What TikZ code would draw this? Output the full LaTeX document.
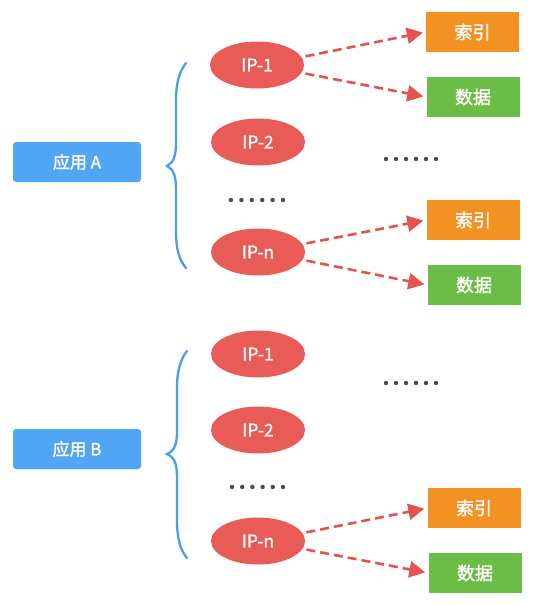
\documentclass[tikz,border=0pt]{standalone}
\usepackage{fontspec}
\setmainfont{Noto Sans CJK SC}
\newfontfamily\lblfont{Noto Sans CJK SC}[FakeBold=1.5]
\usetikzlibrary{shapes.geometric,arrows.meta}
\definecolor{appblue}{HTML}{50A5F5}
\definecolor{bracecol}{HTML}{4A9EEA}
\definecolor{ipred}{HTML}{E95B57}
\definecolor{idxorange}{HTML}{F29223}
\definecolor{datagreen}{HTML}{6CBD45}
\definecolor{arrowred}{HTML}{E6524F}
\definecolor{dotgray}{HTML}{4A4A4A}
\tikzset{
  appbox/.style={draw=none,fill=appblue,rounded corners=3pt,minimum width=128pt,minimum height=40pt,inner sep=0pt,text=white,font=\lblfont\fontsize{17}{19}\selectfont},
  ipnode/.style={ellipse,draw=none,fill=ipred,minimum width=94pt,minimum height=47pt,inner sep=0pt,text=white,font=\lblfont\fontsize{17.5}{19}\selectfont},
  idxbox/.style={draw=none,fill=idxorange,minimum width=93pt,minimum height=40pt,inner sep=0pt,text=white,font=\lblfont\fontsize{18}{20}\selectfont},
  databox/.style={draw=none,fill=datagreen,minimum width=93pt,minimum height=40pt,inner sep=0pt,text=white,font=\lblfont\fontsize{18}{20}\selectfont},
  bracestyle/.style={draw=bracecol,line width=2.3pt,line cap=round},
  dasharrow/.style={draw=arrowred,line width=2.6pt,dash pattern=on 9pt off 5pt,-{Triangle[length=16pt,width=16pt]},shorten <=4pt,shorten >=3pt},
  dotmark/.style={fill=dotgray,draw=none}
}
\begin{document}
\begin{tikzpicture}[x=1pt,y=-1pt]
\useasboundingbox (0,0) rectangle (537,605);
\fill[white] (0,0) rectangle (537,605);

% ---------- Section A ----------
\node[appbox] (appA) at (77,162) {应用 A};
\draw[bracestyle] (186,63) .. controls (179,72) and (176,84) .. (176,100) -- (176,143)
  .. controls (176,157) and (173,163) .. (167,166)
  .. controls (173,169) and (176,175) .. (176,189) -- (176,232)
  .. controls (176,248) and (179,260) .. (186,268);

\node[ipnode] (ipA1) at (257,65) {IP-1};
\node[ipnode] (ipA2) at (258,142) {IP-2};
\node[ipnode] (ipAn) at (258,252) {IP-n};

\node[idxbox] (idxA1) at (472.5,32) {索引};
\node[databox] (datA1) at (473,97) {数据};
\node[idxbox] (idxAn) at (473,220) {索引};
\node[databox] (datAn) at (474,285) {数据};

\draw[dasharrow] (ipA1.10) -- (idxA1.west);
\draw[dasharrow] (ipA1.-10) -- (datA1.west);
\draw[dasharrow] (ipAn.10) -- (idxAn.west);
\draw[dasharrow] (ipAn.-10) -- (datAn.west);

\foreach \i in {0,...,5} {
  \fill[dotmark] (231+10.4*\i,200) circle (2.2pt);
  \fill[dotmark] (386+10*\i,159) circle (2.2pt);
}

% ---------- Section B ----------
\node[appbox] (appB) at (77,449) {应用 B};
\draw[bracestyle] (187,351) .. controls (180,360) and (177,372) .. (177,388) -- (177,431)
  .. controls (177,445) and (174,451) .. (167,454)
  .. controls (174,457) and (177,463) .. (177,477) -- (177,521)
  .. controls (177,537) and (180,550) .. (187,558);

\node[ipnode] (ipB1) at (258,354) {IP-1};
\node[ipnode] (ipB2) at (258,430) {IP-2};
\node[ipnode] (ipBn) at (258,541) {IP-n};

\node[idxbox] (idxBn) at (474,508) {索引};
\node[databox] (datBn) at (475,573) {数据};

\draw[dasharrow] (ipBn.10) -- (idxBn.west);
\draw[dasharrow] (ipBn.-10) -- (datBn.west);

\foreach \i in {0,...,5} {
  \fill[dotmark] (232+10.2*\i,487) circle (2.2pt);
  \fill[dotmark] (386+10*\i,383) circle (2.2pt);
}
\end{tikzpicture}
\end{document}
